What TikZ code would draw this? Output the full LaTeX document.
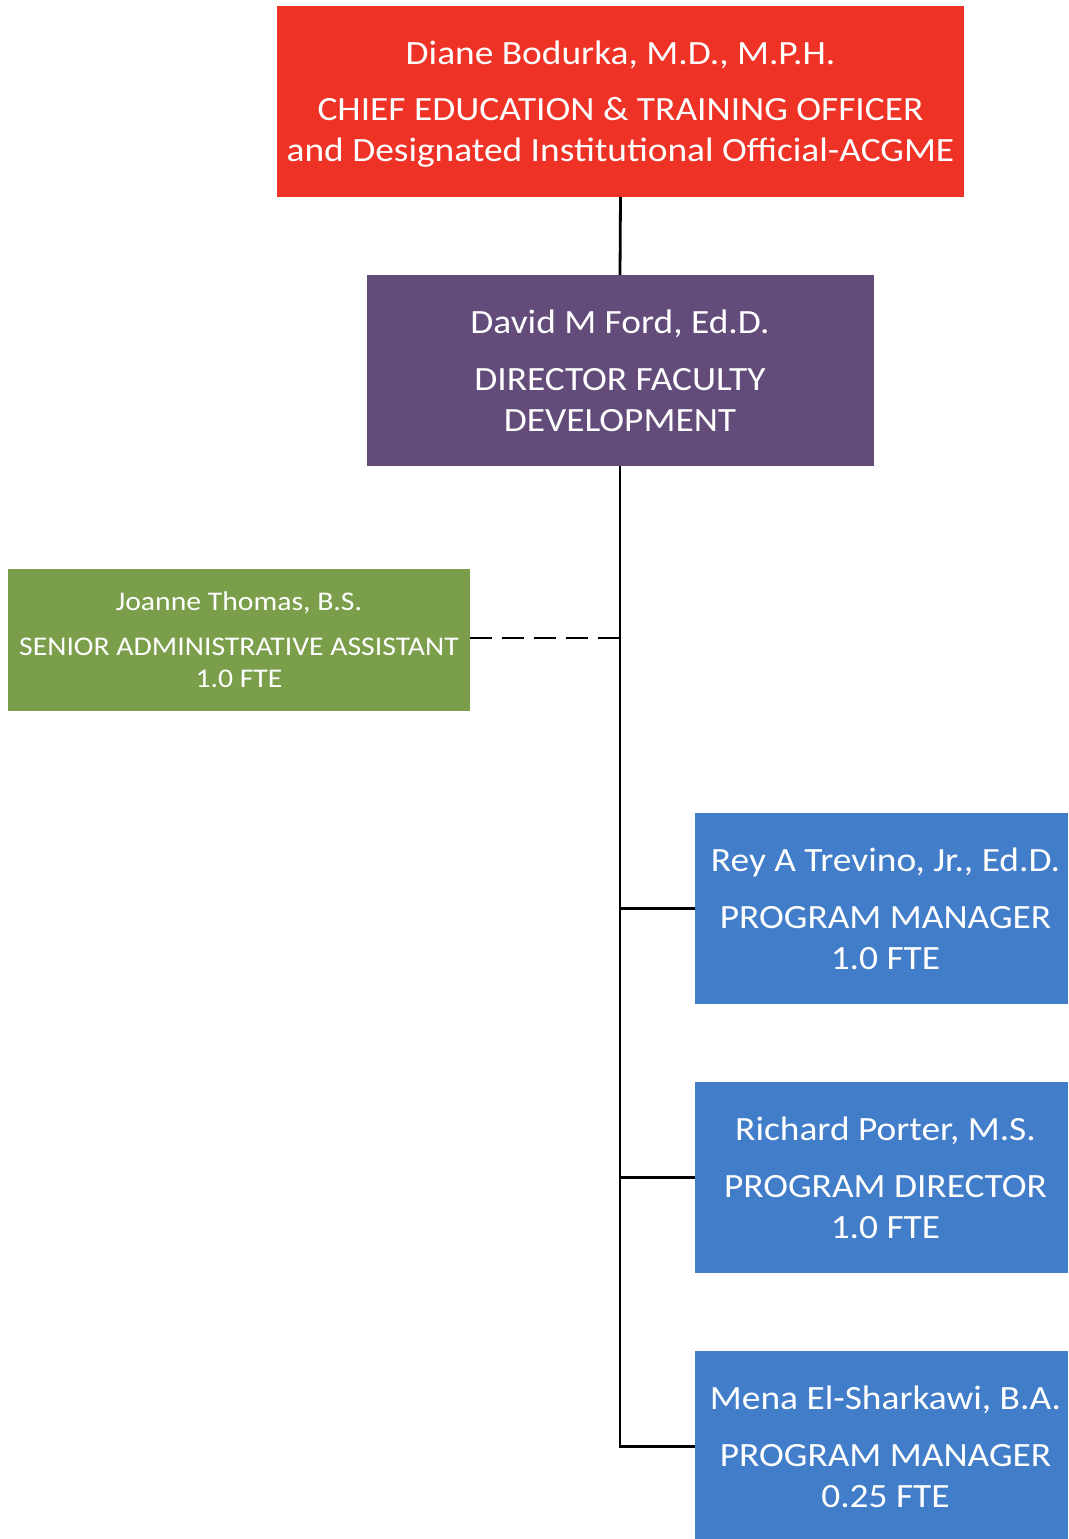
\documentclass[tikz,border=0pt]{standalone}
\usepackage{fontspec}
\setmainfont{Carlito}[FakeStretch=1.1]
\usetikzlibrary{calc}
\definecolor{cred}{RGB}{238,50,38}
\definecolor{cpurple}{RGB}{99,76,122}
\definecolor{cgreen}{RGB}{122,158,74}
\definecolor{cblue}{RGB}{65,125,200}
\tikzset{
  box/.style={draw=none, inner sep=0pt, outer sep=0pt},
  big/.style={anchor=base, text=white, inner sep=0pt, font=\fontsize{34}{40}\selectfont},
  small/.style={anchor=base, text=white, inner sep=0pt, font=\fontsize{27}{32}\selectfont},
  conn/.style={line width=2.8pt, black},
  dconn/.style={line width=2.8pt, black, dash pattern=on 22pt off 10pt}
}
\begin{document}
\begin{tikzpicture}[x=1pt,y=-1pt]
\useasboundingbox (0,0) rectangle (1068,1539);
% boxes
\node[box, fill=cred, minimum width=687pt, minimum height=191pt] (red) at (620.5,101.5) {};
\node[box, fill=cpurple, minimum width=507pt, minimum height=191pt] (purple) at (620,370.5) {};
\node[box, fill=cgreen, minimum width=462pt, minimum height=142pt] (green) at (239,640) {};
\node[box, fill=cblue, minimum width=373pt, minimum height=191pt] (b1) at (881.5,908.5) {};
\node[box, fill=cblue, minimum width=373pt, minimum height=191pt] (b2) at (881.5,1177.5) {};
\node[box, fill=cblue, minimum width=373pt, minimum height=191pt] (b3) at (881.5,1446.5) {};
% texts
\node[big] (t1a) at ($(red.north)+(0,58)$) {Diane Bodurka, M.D., M.P.H.};
\node[big] (t1b) at ($(red.north)+(0,114)$) {CHIEF EDUCATION \& TRAINING OFFICER};
\node[big] (t1c) at ($(red.north)+(0,155)$) {and Designated Institutional Official-ACGME};
\node[big] (t2a) at ($(purple.north)+(0,58)$) {David M Ford, Ed.D.};
\node[big] (t2b) at ($(purple.north)+(0,115)$) {DIRECTOR FACULTY};
\node[big] (t2c) at ($(purple.north)+(0,156)$) {DEVELOPMENT};
\node[small] (t3a) at ($(green.north)+(0,41)$) {Joanne Thomas, B.S.};
\node[small] (t3b) at ($(green.north)+(0,86)$) {SENIOR ADMINISTRATIVE ASSISTANT};
\node[small] (t3c) at ($(green.north)+(0,118)$) {1.0 FTE};
\node[big] (t4a) at ($(b1.north)+(4,58)$) {Rey A Trevino, Jr., Ed.D.};
\node[big] (t4b) at ($(b1.north)+(4,115)$) {PROGRAM MANAGER};
\node[big] (t4c) at ($(b1.north)+(4,156)$) {1.0 FTE};
\node[big] (t5a) at ($(b2.north)+(4,58)$) {Richard Porter, M.S.};
\node[big] (t5b) at ($(b2.north)+(4,115)$) {PROGRAM DIRECTOR};
\node[big] (t5c) at ($(b2.north)+(4,156)$) {1.0 FTE};
\node[big] (t6a) at ($(b3.north)+(4,58)$) {Mena El-Sharkawi, B.A.};
\node[big] (t6b) at ($(b3.north)+(4,115)$) {PROGRAM MANAGER};
\node[big] (t6c) at ($(b3.north)+(4,156)$) {0.25 FTE};
% connectors
\coordinate (trunk) at (purple.south |- b3.west);
\coordinate (dashend) at (620,638);
\coordinate (dashstart) at (470,638);
\draw[conn] (red.south) -- (purple.north);
\draw[conn] (purple.south) -- (trunk) -- (b3.west);
\draw[conn] (purple.south |- b1.west) -- (b1.west);
\draw[conn] (purple.south |- b2.west) -- (b2.west);
\draw[dconn] (dashstart) -- (dashend);
\end{tikzpicture}
\end{document}
